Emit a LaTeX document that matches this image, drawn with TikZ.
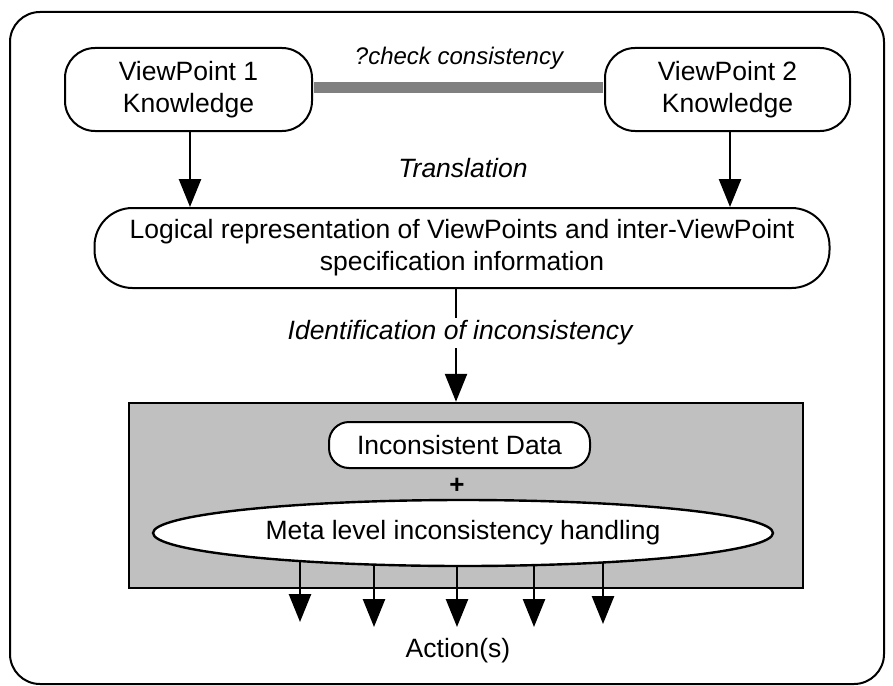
\documentclass[tikz,border=0pt]{standalone}
\usepackage{fontspec}
\setmainfont{Liberation Sans}
\usetikzlibrary{arrows.meta,shapes.geometric}
\definecolor{bargray}{RGB}{128,128,128}
\definecolor{boxgray}{RGB}{192,192,192}
\begin{document}
\begin{tikzpicture}[x=1pt,y=-1pt,
  txt/.style={font=\fontsize{26.5}{32}\selectfont},
  lbl/.style={font=\fontsize{26.5}{32}\selectfont\itshape},
  rbox/.style={draw, line width=2pt, fill=white, align=center, inner sep=0pt, txt},
  arr/.style={line width=2.6pt, -{Triangle[width=22pt,length=28pt]}}]
\useasboundingbox (0,0) rectangle (893,685);
% outer frame
\draw[line width=2pt, rounded corners=30pt] (10,12) rectangle (884,684);
% viewpoints
\node[rbox, rounded corners=30pt, minimum width=247pt, minimum height=83pt] (vp1) at (188.5,89.5) {ViewPoint 1\\Knowledge};
\node[rbox, rounded corners=30pt, minimum width=245pt, minimum height=83pt] (vp2) at (727.5,89.5) {ViewPoint 2\\Knowledge};
\draw[line width=11pt, bargray, shorten <=1pt, shorten >=1pt] ([yshift=2pt]vp1.east) -- ([yshift=2pt]vp2.west);
\node[font=\fontsize{24}{28}\selectfont\itshape, anchor=base] (chk) at (459,64) {?check consistency};
% logical representation
\node[rbox, rounded corners=38pt, minimum width=735pt, minimum height=80pt] (logic) at (462,248) {Logical representation of ViewPoints and inter-ViewPoint\\specification information};
\node[lbl, anchor=base] (trans) at (463,177) {Translation};
\draw[arr] ([xshift=1.5pt]vp1.south) -- ([xshift=1.5pt]vp1.south |- logic.north);
\draw[arr] ([xshift=2.5pt]vp2.south) -- ([xshift=2.5pt]vp2.south |- logic.north);
% handling box
\node[draw, line width=2.5pt, fill=boxgray, minimum width=674pt, minimum height=185pt, inner sep=0pt] (gbox) at (466,495.5) {};
\draw[arr] ([xshift=-6pt]logic.south) -- ([xshift=-6pt]logic.south |- gbox.north);
\node[lbl, fill=white, inner sep=3pt] (ident) at (460,333) {Identification of inconsistency};
\node[rbox, rounded corners=20pt, minimum width=261pt, minimum height=46pt] (data) at (459.5,445) {Inconsistent Data};
\node[font=\fontsize{26}{30}\selectfont\bfseries] (plus) at (457,486) {+};
% action arrows (their upper ends are hidden under the ellipse)
\coordinate (a1) at (300,533);
\coordinate (a2) at (374,533);
\coordinate (a3) at (457,533);
\coordinate (a4) at (534,533);
\coordinate (a5) at (603,533);
\coordinate (t1) at (0,622);
\coordinate (t2) at (0,627);
\coordinate (t5) at (0,624);
\draw[arr] (a1) -- (a1 |- t1);
\draw[arr] (a2) -- (a2 |- t2);
\draw[arr] (a3) -- (a3 |- t2);
\draw[arr] (a4) -- (a4 |- t2);
\draw[arr] (a5) -- (a5 |- t5);
\node[ellipse, draw, line width=2.4pt, fill=white, minimum width=620pt, minimum height=66pt, inner sep=0pt, outer sep=0pt, txt] (meta) at (463,533) {Meta level inconsistency handling};
\node[txt, anchor=base] (act) at (458,657) {Action(s)};
\end{tikzpicture}
\end{document}
